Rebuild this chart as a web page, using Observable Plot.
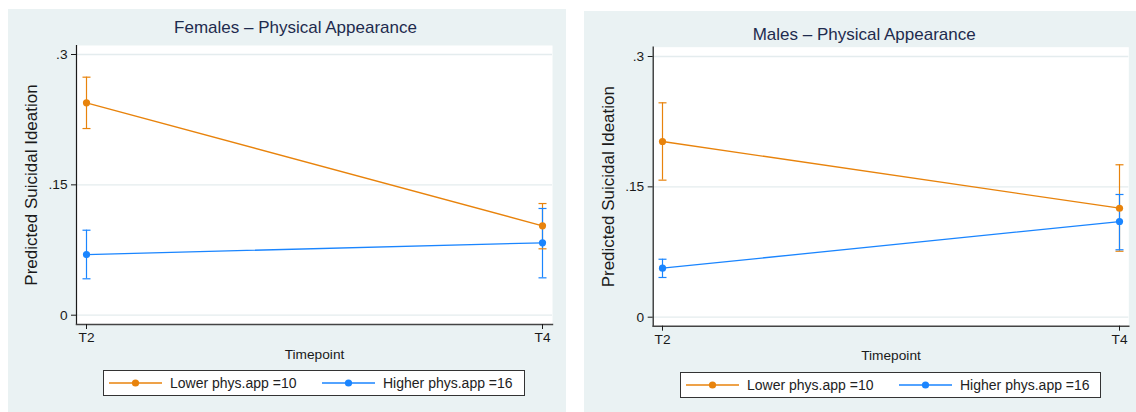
<!DOCTYPE html>
<html>
<head>
<meta charset="utf-8">
<script src="https://cdn.jsdelivr.net/npm/d3@7"></script>
<script src="https://cdn.jsdelivr.net/npm/@observablehq/plot@0.6"></script>
<style>
  html, body { margin: 0; padding: 0; background: #ffffff; }
  body { width: 1136px; height: 412px; position: relative; overflow: hidden;
         font-family: "Liberation Sans", Arial, Helvetica, sans-serif; }
  .panel { position: absolute; background: #eaf2f3; }
  .panel svg { position: absolute; left: 0; top: 0; }
  .legend { position: absolute; background: #ffffff; border: 1px solid #333; box-sizing: border-box;
            font-size: 14px; color: #222; }
  .legend svg { position: absolute; }
  .legend span { position: absolute; white-space: nowrap; line-height: 1; }
</style>
</head>
<body>
<div id="left" class="panel" style="left:8px; top:9px; width:558px; height:403px;"></div>
<div id="right" class="panel" style="left:584px; top:11px; width:552px; height:401px;"></div>
<script>
// ---- data ----
const timepoints = ["T2", "T4"];
const groups = ["Lower phys.app =10", "Higher phys.app =16"];
const colors = ["#e8830c", "#1a85ff"];
const yTicks = [0, 0.15, 0.3];
const yTickLabels = ["0", ".15", ".3"];

const femalesTitle = "Females \u2013 Physical Appearance";
const femLowMean  = [0.2444, 0.1029];
const femLowLo    = [0.2148, 0.0764];
const femLowHi    = [0.2739, 0.1285];
const femHighMean = [0.0698, 0.0833];
const femHighLo   = [0.0419, 0.0430];
const femHighHi   = [0.0978, 0.1228];

const malesTitle = "Males \u2013 Physical Appearance";
const maleLowMean  = [0.2022, 0.1254];
const maleLowLo    = [0.1577, 0.0759];
const maleLowHi    = [0.2467, 0.1754];
const maleHighMean = [0.0564, 0.1101];
const maleHighLo   = [0.0457, 0.0776];
const maleHighHi   = [0.0667, 0.1412];

const xTitle = "Timepoint";
const yTitle = "Predicted Suicidal Ideation";

// ---- helpers ----
function buildRows(series) {
  const rows = [];
  series.forEach((s, gi) => {
    timepoints.forEach((t, ti) => {
      rows.push({group: groups[gi], t, mean: s.mean[ti], lo: s.lo[ti], hi: s.hi[ti]});
    });
  });
  return rows;
}

const capSymbol = {
  draw(context) { context.moveTo(-4, 0); context.lineTo(4, 0); }
};

const FONT = '"Liberation Sans", Arial, Helvetica, sans-serif';

function makePanel(el, cfg) {
  const data = buildRows(cfg.series);
  const svg = Plot.plot({
    width: cfg.width,
    height: cfg.height,
    marginLeft: cfg.mL,
    marginRight: cfg.mR,
    marginTop: cfg.mT,
    marginBottom: cfg.mB,
    style: {background: "transparent", fontFamily: FONT, fontSize: "13.7px", color: "#1a1a1a", overflow: "visible"},
    x: {type: "point", domain: timepoints, range: cfg.xRange, padding: 0, label: null},
    y: {domain: [0, 0.3], range: cfg.yRange, label: null},
    color: {domain: groups, range: colors},
    marks: [
      Plot.frame({fill: "white", stroke: "none"}),
      Plot.ruleY(yTicks, {stroke: "#e4ecee", strokeWidth: 1.3}),
      Plot.frame({anchor: "left", stroke: "#1a1a1a", strokeWidth: 1.2}),
      Plot.frame({anchor: "bottom", stroke: "#444", strokeWidth: 1.4}),
      Plot.axisY(yTicks, {tickFormat: d => yTickLabels[yTicks.indexOf(d)], tickSize: 5, tickPadding: 4,
                          fontSize: 13.7, label: null, stroke: "#1a1a1a"}),
      Plot.axisX({tickSize: 5, tickPadding: 3, fontSize: 13.7, label: null, stroke: "#1a1a1a"}),
      // confidence intervals
      Plot.ruleX(data, {x: "t", y1: "lo", y2: "hi", stroke: "group", strokeWidth: 1.2}),
      Plot.dot(data, {x: "t", y: "lo", symbol: capSymbol, stroke: "group", fill: "none", strokeWidth: 1.2}),
      Plot.dot(data, {x: "t", y: "hi", symbol: capSymbol, stroke: "group", fill: "none", strokeWidth: 1.2}),
      // lines and points
      Plot.line(data, {x: "t", y: "mean", z: "group", stroke: "group", strokeWidth: 1.3}),
      Plot.dot(data, {x: "t", y: "mean", fill: "group", r: 3.6}),
      // titles
      Plot.text([cfg.title], {frameAnchor: "top-left", dx: cfg.titleDx, dy: cfg.titleDy, textAnchor: "middle",
                              lineAnchor: "bottom", fontSize: 17, fill: "#1e2b4e"}),
      Plot.text([yTitle], {frameAnchor: "left", rotate: -90, dx: -45, dy: 0, textAnchor: "middle",
                           lineAnchor: "middle", fontSize: 17, fill: "#1a1a1a"}),
      Plot.text([xTitle], {frameAnchor: "bottom", dy: cfg.xTitleDy, textAnchor: "middle",
                           lineAnchor: "bottom", fontSize: 13.7, fill: "#1a1a1a"})
    ]
  });
  el.appendChild(svg);

  // legend
  const lg = document.createElement("div");
  lg.className = "legend";
  lg.style.left = cfg.legend.left + "px";
  lg.style.top = cfg.legend.top + "px";
  lg.style.width = cfg.legend.width + "px";
  lg.style.height = cfg.legend.height + "px";
  const itemPos = [{line: 5, text: 66}, {line: 218, text: 279}];
  groups.forEach((g, i) => {
    const sw = d3.create("svg").attr("width", 54).attr("height", 10)
      .style("left", itemPos[i].line + "px").style("top", (cfg.legend.height / 2 - 1 - 5) + "px");
    sw.append("line").attr("x1", 0).attr("x2", 53).attr("y1", 5).attr("y2", 5)
      .attr("stroke", colors[i]).attr("stroke-width", 1.3);
    sw.append("circle").attr("cx", 26.5).attr("cy", 5).attr("r", 3.6).attr("fill", colors[i]);
    lg.appendChild(sw.node());
    const sp = document.createElement("span");
    sp.textContent = g;
    sp.style.left = itemPos[i].text + "px";
    sp.style.top = (cfg.legend.height / 2 - 1 - 7.5) + "px";
    lg.appendChild(sp);
  });
  el.appendChild(lg);
}

makePanel(document.getElementById("left"), {
  width: 558, height: 403, mL: 68, mR: 14, mT: 36, mB: 88,
  xRange: [77.3, 534.3], yRange: [305.7, 45],
  series: [
    {mean: femLowMean, lo: femLowLo, hi: femLowHi},
    {mean: femHighMean, lo: femHighLo, hi: femHighHi}
  ],
  title: femalesTitle, titleDx: 219, titleDy: -13, xTitleDy: 34,
  legend: {left: 95, top: 361, width: 422, height: 26}
});

makePanel(document.getElementById("right"), {
  width: 552, height: 401, mL: 68.7, mR: 7.7, mT: 35.7, mB: 86.3,
  xRange: [77.3, 535], yRange: [305.7, 45],
  series: [
    {mean: maleLowMean, lo: maleLowLo, hi: maleLowHi},
    {mean: maleHighMean, lo: maleHighLo, hi: maleHighHi}
  ],
  title: malesTitle, titleDx: 211, titleDy: -7, xTitleDy: 34,
  legend: {left: 96, top: 361, width: 421, height: 26}
});
</script>
</body>
</html>
